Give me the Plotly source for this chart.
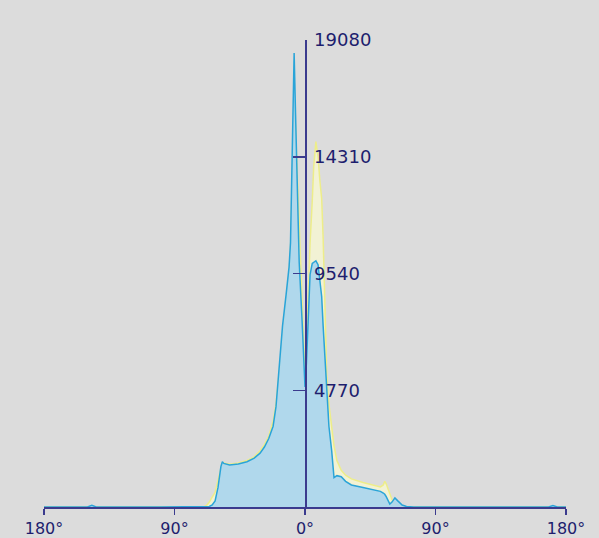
import plotly.graph_objects as go

angles = [-180, -150, -147, -144, -100, -70, -68, -66, -64, -62, -60, -58, -57, -56, -52, -46,
          -40, -35, -31, -28, -25, -22, -20, -18.5, -17, -15.5, -13, -11, -10, -9, -8, -7.5,
          -6.5, -5, -4, -2, 0, 1, 2, 3.5, 5, 6, 7.5, 9, 10.3, 11.5, 12.5, 13.8, 15, 16.5,
          18.4, 20, 22, 25, 28, 32, 40, 48, 52, 54, 55, 56, 58.5, 60, 62, 64, 67, 70, 75,
          120, 168, 171, 174, 180]

blue_vals = [0, 0, 70, 0, 0, 0, 0, 20, 80, 250, 800, 1650, 1850, 1780, 1720, 1760,
             1850, 2000, 2200, 2450, 2800, 3300, 4100, 5200, 6200, 7400, 8700, 9800, 10800, 14500, 17200, 18550,
             16000, 12000, 10000, 7600, 4900, 5900, 7300, 9500, 9950, 10000, 10060, 9900, 9300, 8600, 7400, 6000, 4500, 3300,
             2300, 1200, 1280, 1240, 1050, 900, 800, 700, 640, 570, 520, 420, 120, 200, 370, 250, 80, 20, 0,
             0, 0, 60, 0, 0]

yellow_vals = [0, 0, 0, 0, 0, 0, 60, 200, 400, 600, 1100, 1600, 1800, 1800, 1750, 1800,
               1900, 2050, 2300, 2550, 2900, 3500, 4200, 5100, 6000, 7000, 8300, 9500, 10500, 13000, 15500, 16500,
               15500, 13000, 11500, 8500, 5300, 6500, 8500, 10800, 12500, 13900, 14930, 14300, 13300, 12600, 11000, 7800, 5400, 4200,
               3200, 2500, 1900, 1500, 1300, 1150, 1000, 880, 820, 900, 1050, 950, 500, 300, 150, 80, 20, 0, 0,
               0, 0, 0, 0, 0]

x_tickvals = [-180, -90, 0, 90, 180]
x_ticktext = ["180°", "90°", "0°", "90°", "180°"]
y_tickvals = [4770, 9540, 14310, 19080]
y_ticktext = ["4770", "9540", "14310", "19080"]

axis_color = "#3B3B8E"
text_color = "#1E1E6E"
bg = "#DCDCDC"

fig = go.Figure()
fig.add_trace(go.Scatter(
    x=angles, y=yellow_vals, mode="lines", fill="tozeroy",
    line=dict(color="#EDED8A", width=1.5), fillcolor="#F2F2D4",
    hoverinfo="skip", showlegend=False))
fig.add_trace(go.Scatter(
    x=angles, y=blue_vals, mode="lines", fill="tozeroy",
    line=dict(color="#2AA4D8", width=1.5), fillcolor="rgba(170,214,238,0.92)",
    hoverinfo="skip", showlegend=False))

fig.update_layout(
    width=599, height=538,
    margin=dict(l=44, r=33, t=40, b=31, autoexpand=False),
    paper_bgcolor=bg, plot_bgcolor=bg,
    font=dict(family="DejaVu Sans", color=text_color),
    xaxis=dict(range=[-180, 180], showgrid=False, zeroline=False,
               showline=True, linecolor=axis_color, linewidth=1.5,
               ticks="outside", ticklen=6, tickcolor=axis_color, tickwidth=1.5,
               tickvals=x_tickvals, ticktext=x_ticktext,
               tickfont=dict(size=16, color=text_color), automargin=False),
    yaxis=dict(range=[0, 19080], showgrid=False, zeroline=False,
               anchor="free", position=0.5, side="right",
               showline=True, linecolor=axis_color, linewidth=1.5,
               ticks="inside", ticklen=12, tickcolor=axis_color, tickwidth=1.5,
               tickvals=y_tickvals, ticktext=y_ticktext,
               ticklabelstandoff=4,
               tickfont=dict(size=18, color=text_color), automargin=False),
)

fig.write_html(
    "out.html",
    config={"displayModeBar": False, "staticPlot": True},
    post_script="document.body.style.margin='0';document.body.style.overflow='hidden';document.body.style.background='#DCDCDC';",
)
